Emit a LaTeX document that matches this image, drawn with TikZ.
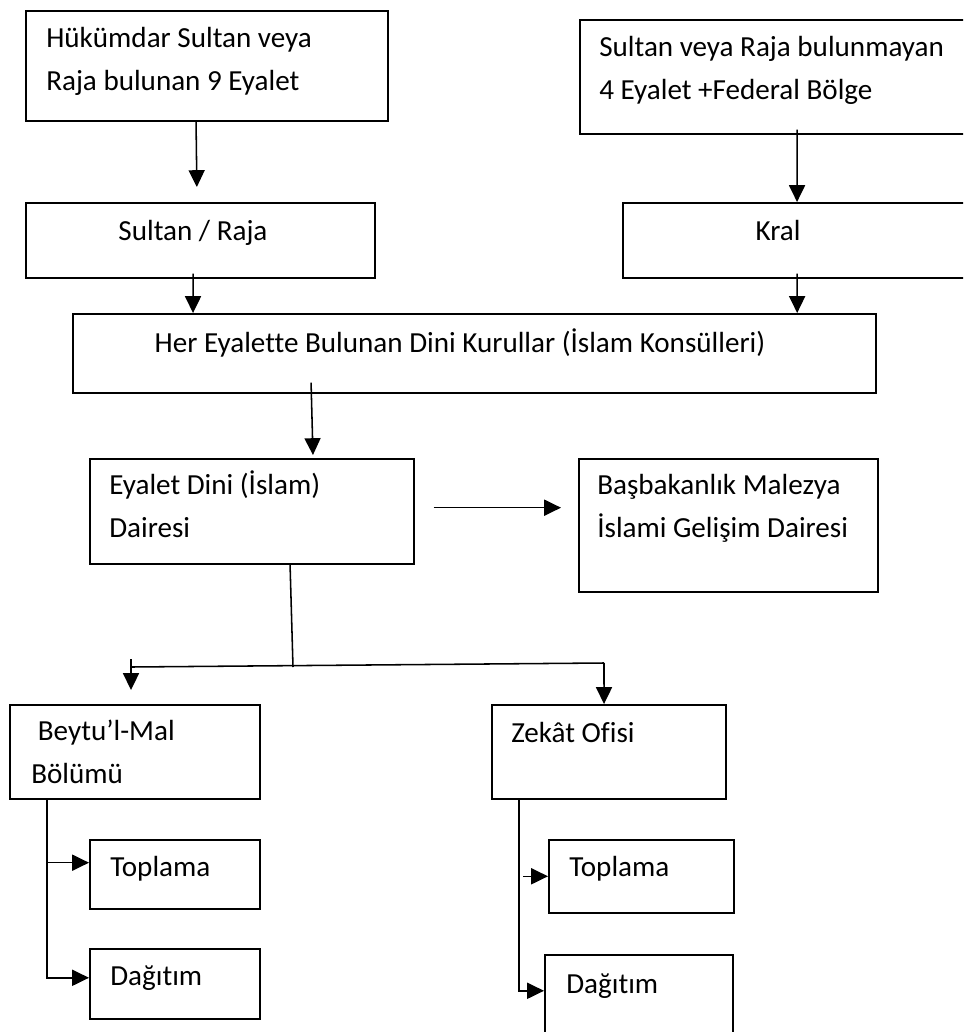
\documentclass[tikz,border=0pt]{standalone}
\usepackage{fontspec}
\setmainfont{Carlito}[Ligatures=NoCommon]
\usetikzlibrary{arrows.meta}

\tikzset{
  kutu/.style={draw, line width=1.1pt, anchor=north west, inner sep=0pt},
  yazi/.style={anchor=base west, inner sep=0pt, align=left, font=\fontsize{20.7pt}{30pt}\selectfont},
  ortayazi/.style={yazi, anchor=base},
  ok/.style={line width=1.1pt, -{Triangle[length=0.42cm,width=0.4cm]}},
}

\begin{document}
\begin{tikzpicture}[x=0.025cm, y=-0.025cm]

\useasboundingbox (0,0) rectangle (963,1032);
\clip (0,0) rectangle (963,1032);

% ust kutular
\node[kutu, minimum width=9.05cm, minimum height=2.75cm] (hukumdar) at (25,10) {};
\node[yazi] (hukumdarY) at (46,90) {Hükümdar Sultan veya\\Raja bulunan 9 Eyalet};

\node[kutu, minimum width=10cm, minimum height=2.85cm] (bulunmayan) at (579,19) {};
\node[yazi] (bulunmayanY) at (599,99) {Sultan veya Raja bulunmayan\\4 Eyalet +Federal Bölge};

\node[kutu, minimum width=8.725cm, minimum height=1.875cm] (sultan) at (25,202) {};
\node[ortayazi] (sultanY) at (193,240) {Sultan / Raja};

\node[kutu, minimum width=10cm, minimum height=1.875cm] (kral) at (622,202) {};
\node[ortayazi] (kralY) at (778,240) {Kral};

\draw[ok, shorten >=0.375cm] ([xshift=4.275cm]hukumdar.south west) -- ([xshift=4.3cm]sultan.north west);
\draw[ok] ([xshift=5.45cm,yshift=0.125cm]bulunmayan.south west) -- ([xshift=4.375cm]kral.north west);

% kurullar
\node[kutu, minimum width=20.075cm, minimum height=1.975cm] (kurullar) at (72,313) {};
\node[ortayazi] (kurullarY) at (460,352) {Her Eyalette Bulunan Dini Kurullar (İslam Konsülleri)};

\draw[ok] ([xshift=4.2cm,yshift=0.125cm]sultan.south west) -- ([xshift=3.025cm]kurullar.north west);
\draw[ok] ([xshift=4.375cm,yshift=0.125cm]kral.south west) -- ([xshift=18.125cm]kurullar.north west);

% daireler
\node[kutu, minimum width=8.1cm, minimum height=2.625cm] (eyalet) at (89,458) {};
\node[yazi] (eyaletY) at (109,537) {Eyalet Dini (İslam)\\Dairesi};

\node[kutu, minimum width=7.475cm, minimum height=3.325cm] (basbakanlik) at (578,458) {};
\node[yazi] (basbakanlikY) at (597,537) {Başbakanlık Malezya\\İslami Gelişim Dairesi};

\draw[ok, shorten >=0.075cm] ([xshift=5.975cm,yshift=0.275cm]kurullar.south west) -- ([xshift=5.6cm]eyalet.north west);
\draw[ok, shorten <=0.475cm, shorten >=0.425cm] ([yshift=0.09cm]eyalet.east) -- ([yshift=0.09cm]eyalet.east -| basbakanlik.west);

% alt birimler
\node[kutu, minimum width=6.25cm, minimum height=2.35cm] (beytulmal) at (9,704) {};
\node[yazi] (beytulmalY) at (31,783) {\ Beytu’l-Mal\\Bölümü};

\node[kutu, minimum width=5.85cm, minimum height=2.35cm] (zekat) at (491,704) {};
\node[yazi] (zekatY) at (511,742) {Zekât Ofisi};

\coordinate (catal) at (293,667);
\coordinate (solkol) at (131,667);
\coordinate (sagkol) at (604,663);

\draw[line width=1.1pt] ([xshift=5.025cm]eyalet.south west) -- (catal);
\draw[line width=1.1pt] (solkol) -- (sagkol);
\draw[ok, shorten >=0.35cm] ([yshift=0.2cm]solkol) -- ([xshift=3.05cm]beytulmal.north west);
\draw[ok] (sagkol) -- ([xshift=2.825cm]zekat.north west);

% toplama / dagitim
\node[kutu, minimum width=4.25cm, minimum height=1.725cm] (toplama1) at (89,839) {};
\node[yazi] (toplama1Y) at (110,876) {Toplama};
\node[kutu, minimum width=4.25cm, minimum height=1.75cm] (dagitim1) at (89,948) {};
\node[yazi] (dagitim1Y) at (110,985) {Dağıtım};

\node[kutu, minimum width=4.625cm, minimum height=1.825cm] (toplama2) at (548,839) {};
\node[yazi] (toplama2Y) at (569,876) {Toplama};
\node[kutu, minimum width=4.7cm, minimum height=2.5cm] (dagitim2) at (544,954) {};
\node[yazi] (dagitim2Y) at (566,993) {Dağıtım};

\coordinate (bkol) at ([xshift=0.95cm]beytulmal.south west);
\coordinate (t1ok) at ([yshift=0.29cm]toplama1.west);
\coordinate (d1ok) at ([yshift=0.15cm]dagitim1.west);
\draw[ok] (bkol) |- (d1ok);
\draw[ok] (bkol |- t1ok) -- (t1ok);

\coordinate (zkol) at ([xshift=0.7cm]zekat.south west);
\coordinate (d2ok) at ([yshift=0.35cm]dagitim2.west);
\draw[ok] (zkol) |- (d2ok);
\draw[ok] ([xshift=-0.625cm]toplama2.west) -- (toplama2.west);

\end{tikzpicture}
\end{document}
